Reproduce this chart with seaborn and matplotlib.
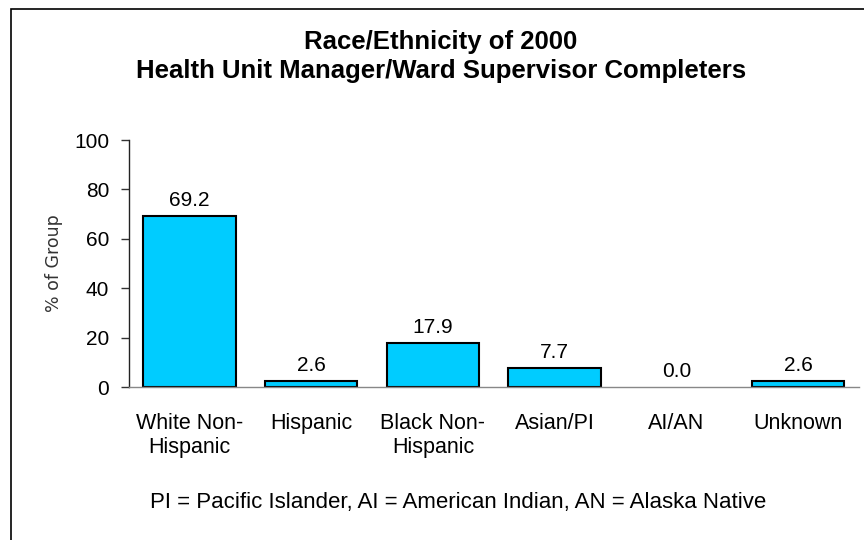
import matplotlib
matplotlib.use("Agg")
import matplotlib.pyplot as plt
import seaborn as sns
import pandas as pd
from matplotlib.patches import Rectangle

categories = ["White Non-\nHispanic", "Hispanic", "Black Non-\nHispanic", "Asian/PI", "AI/AN", "Unknown"]
values = [69.2, 2.6, 17.9, 7.7, 0.0, 2.6]
yticks = [0, 20, 40, 60, 80, 100]

sns.set_theme(style="white")
plt.rcParams['font.family'] = ['Liberation Sans', 'DejaVu Sans']
plt.rcParams['text.color'] = 'black'
plt.rcParams['axes.labelcolor'] = 'black'
plt.rcParams['xtick.color'] = 'black'
plt.rcParams['ytick.color'] = 'black'

df = pd.DataFrame({"cat": categories, "val": values})

fig = plt.figure(figsize=(8.64, 5.4), dpi=100)
ax = fig.add_axes([0.149, 0.2833, 0.845, 0.4574])
sns.barplot(data=df, x="cat", y="val", ax=ax, color="#00CCFF", saturation=1,
            edgecolor="black", linewidth=1.5, width=0.76)
for p in ax.patches:
    if p.get_height() == 0:
        p.set_linewidth(0)

ax.set_ylim(0, 100)
ax.set_yticks(yticks)
ax.set_yticklabels([str(t) for t in yticks], fontsize=15)
ax.tick_params(axis='y', which='both', left=True, length=6, width=1, color='#333333', pad=8)
ax.tick_params(axis='x', bottom=False, labelsize=15.5, pad=12.5)
ax.set_xlabel("")
ax.set_ylabel("% of Group", fontsize=12.5, family='DejaVu Sans', color='#333333', labelpad=8)
for s in ["top", "right"]:
    ax.spines[s].set_visible(False)
ax.spines["left"].set_color("#222222")
ax.spines["left"].set_linewidth(1)
ax.spines["bottom"].set_color("#888888")
ax.spines["bottom"].set_linewidth(1)
ax.spines["bottom"].set_zorder(3)

for i, v in enumerate(values):
    ax.annotate(f"{v:.1f}", (i, v), xytext=(0, 7), textcoords="offset points",
                ha="center", va="baseline", fontsize=15)

fig.text(0.510, 0.922, "Race/Ethnicity of 2000",
         ha="center", va="center", fontsize=18.5, fontweight="bold")
fig.text(0.510, 0.868, "Health Unit Manager/Ward Supervisor Completers",
         ha="center", va="center", fontsize=18.5, fontweight="bold")
fig.text(0.530, 0.070, "PI = Pacific Islander, AI = American Indian, AN = Alaska Native",
         ha="center", va="center", fontsize=16)

# frame
fig.patches.append(Rectangle((11/864, -0.05), 1.1, 1.05 - 9/540, transform=fig.transFigure,
                             fill=False, edgecolor="black", linewidth=1.2))

fig.savefig("out.png", dpi=100)
